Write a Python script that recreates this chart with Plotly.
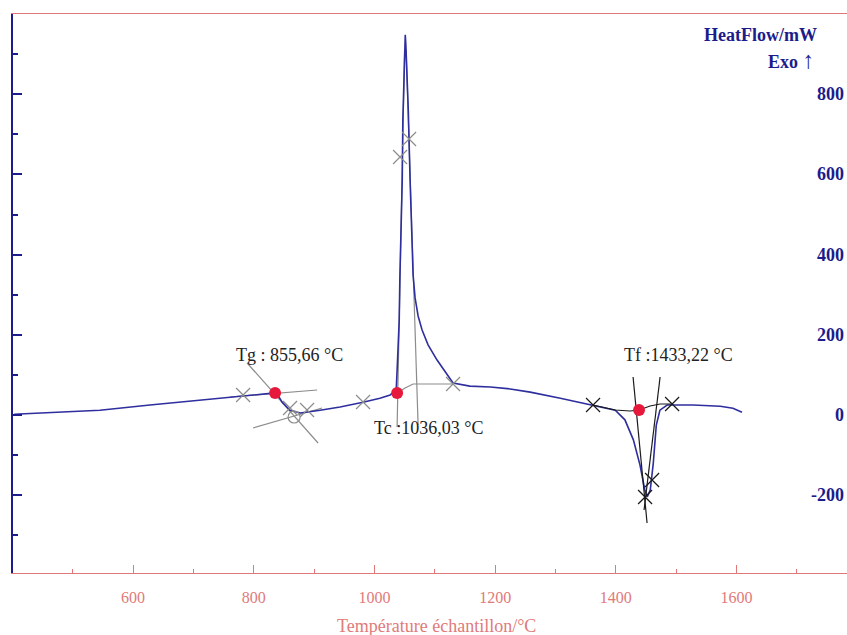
import plotly.graph_objects as go

# ---- data ----
temperature = [403, 545, 628, 711, 777, 810, 835, 841, 847, 860, 877, 910, 943, 981, 1009, 1026,
               1036, 1037.5, 1041, 1042, 1046, 1047, 1050, 1051, 1052, 1056, 1059, 1062.3, 1064,
               1067.3, 1072.3, 1078.9, 1088.8, 1103.7, 1117, 1130.2, 1158, 1192, 1225, 1258,
               1308, 1362, 1399, 1415, 1429, 1440, 1448, 1452, 1457, 1462, 1467, 1473, 1485,
               1528, 1573, 1594, 1609]
heatflow = [2, 12, 25, 37, 47, 52, 55, 47, 32, 12, 5, 12, 20, 32, 42, 50,
            62, 112, 237, 337, 586, 736, 885, 948, 923, 761, 586, 436, 349,
            292, 247, 212, 175, 137, 107, 80, 72, 70, 65, 57,
            42, 25, 12, -12, -62, -125, -187, -204, -187, -120, -25, 12, 25,
            25, 22, 17, 7]

# Tg construction (grey)
tg_diag_x, tg_diag_y = [789, 906.5], [129.7, -69.8]
tg_pre_x, tg_pre_y = [760.7, 904.9], [44.9, 62.3]
tg_post_x, tg_post_y = [798.8, 913.2], [-32.4, 17.5]
tg_cross_x, tg_cross_y = [782.3, 860.1, 888.3, 981.1], [49.9, 17.5, 12.5, 32.4]
tg_circle_x, tg_circle_y = [866.8], [-5]

# Tc construction (grey)
tc_left_x, tc_left_y = [1037.5, 1049.9], [-29.9, 910]
tc_right_x, tc_right_y = [1072.3, 1052.4], [-24.9, 910]
tc_base_x = [1037.5, 1050.7, 1064, 1092.1, 1130.2]
tc_base_y = [54.9, 67.3, 77.3, 77.3, 77.3]
tc_cross_x, tc_cross_y = [1042.4, 1057.3, 1130.2], [643.4, 688.3, 77.3]

# Tf construction (black)
tf_base_x = [1362.2, 1398.7, 1423.5, 1438.4, 1456.7, 1473.3, 1493.2]
tf_base_y = [24.9, 12.5, 10, 12.5, 22.4, 27.4, 27.4]
tf_t1_x, tf_t1_y = [1428.5, 1451.7], [94.8, -269.3]
tf_t2_x, tf_t2_y = [1473.3, 1446.7], [94.8, -236.9]
tf_cross_x, tf_cross_y = [1362.2, 1493.2, 1448.4, 1460], [24.9, 27.4, -204.5, -162]

# characteristic points
point_x = [835.3, 1037.5, 1438.4]
point_y = [54.9, 54.9, 12.5]
labels = ["Tg : 855,66 °C", "Tc :1036,03 °C", "Tf :1433,22 °C"]
label_x = [860, 1089, 1503]
label_y = [150, -32, 150]

x_ticks = [600, 800, 1000, 1200, 1400, 1600]
y_ticks = [800, 600, 400, 200, 0, -200]

GREY = "#8c8c8c"
BLACK = "#1a1a1a"
BLUE = "#2e2e9e"
PINK = "#e07a7a"
NAVY = "#1c1c8c"
SERIF = "Liberation Serif, Times New Roman, serif"

fig = go.Figure()

def line(x, y, color, width=1.2):
    fig.add_trace(go.Scatter(x=x, y=y, mode="lines", line=dict(color=color, width=width),
                             hoverinfo="skip", showlegend=False))

def crosses(x, y, color, size=14):
    fig.add_trace(go.Scatter(x=x, y=y, mode="markers",
                             marker=dict(symbol="x-thin-open", size=size, color=color,
                                         line=dict(color=color, width=1.2)),
                             hoverinfo="skip", showlegend=False))

# grey construction lines
line(tg_diag_x, tg_diag_y, GREY)
line(tg_pre_x, tg_pre_y, GREY)
line(tg_post_x, tg_post_y, GREY)
line(tc_left_x, tc_left_y, GREY)
line(tc_right_x, tc_right_y, GREY)
line(tc_base_x, tc_base_y, GREY)

# main curve
fig.add_trace(go.Scatter(x=temperature, y=heatflow, mode="lines",
                         line=dict(color=BLUE, width=1.6), showlegend=False))

# black construction lines
line(tf_base_x, tf_base_y, BLACK)
line(tf_t1_x, tf_t1_y, BLACK)
line(tf_t2_x, tf_t2_y, BLACK)

crosses(tg_cross_x, tg_cross_y, GREY)
crosses(tc_cross_x, tc_cross_y, GREY)
crosses(tf_cross_x, tf_cross_y, BLACK)
fig.add_trace(go.Scatter(x=tg_circle_x, y=tg_circle_y, mode="markers",
                         marker=dict(symbol="circle-open", size=12, color=GREY,
                                     line=dict(color=GREY, width=1.2)),
                         showlegend=False, hoverinfo="skip"))

fig.add_trace(go.Scatter(x=point_x, y=point_y, mode="markers",
                         marker=dict(color="#e6193c", size=12), showlegend=False))

for t, xx, yy in zip(labels, label_x, label_y):
    fig.add_annotation(x=xx, y=yy, text=t, showarrow=False,
                       font=dict(family=SERIF, size=18, color="#222222"))

# right-hand tick labels
for v in y_ticks:
    fig.add_annotation(xref="paper", x=1, y=v, yref="y", text=str(v), showarrow=False,
                       xanchor="right", yanchor="middle", xshift=-1,
                       font=dict(family=SERIF, size=18, color=NAVY, weight="bold"))

fig.add_annotation(xref="paper", yref="paper", x=1, y=0.962, xanchor="right", yanchor="middle",
                   xshift=-28, text="HeatFlow/mW", showarrow=False,
                   font=dict(family=SERIF, size=18, color=NAVY, weight="bold"))
fig.add_annotation(xref="paper", yref="paper", x=1, y=0.918, xanchor="right", yanchor="middle",
                   xshift=-30,
                   text="Exo <span style='font-size:24px;font-weight:normal'>↑</span>",
                   showarrow=False,
                   font=dict(family=SERIF, size=18, color=NAVY, weight="bold"))
fig.add_annotation(xref="paper", yref="paper", x=0.508, y=-0.094, yanchor="middle",
                   text="Température échantillon/°C", showarrow=False,
                   font=dict(family=SERIF, size=18, color=PINK))

fig.update_xaxes(range=[401, 1783], tickvals=x_ticks, ticktext=[str(v) for v in x_ticks],
                 ticks="inside", ticklen=8, tickcolor=PINK, tickwidth=1,
                 minor=dict(dtick=100, tick0=0, ticks="inside", ticklen=4, tickcolor=PINK),
                 showline=True, linecolor=PINK, linewidth=1.2, mirror=True,
                 showgrid=False, zeroline=False, ticklabelstandoff=10,
                 tickfont=dict(family=SERIF, size=16, color=PINK))
fig.update_yaxes(range=[-394, 1000], tick0=0, dtick=200, ticks="inside", ticklen=9,
                 tickcolor=NAVY, tickwidth=1.5,
                 minor=dict(dtick=100, tick0=0, ticks="inside", ticklen=5, tickcolor=NAVY, tickwidth=1.5),
                 showline=True, linecolor=NAVY, linewidth=1.5, showticklabels=False,
                 showgrid=False, zeroline=False)

fig.update_layout(width=847, height=635, margin=dict(l=13, r=0, t=14, b=62),
                  plot_bgcolor="white", paper_bgcolor="white", showlegend=False)

# remove the default page margin so the figure fills the window exactly
fig.write_html("out.html", config={"displayModeBar": False},
               post_script="document.body.style.margin='0';document.body.style.overflow='hidden';")
